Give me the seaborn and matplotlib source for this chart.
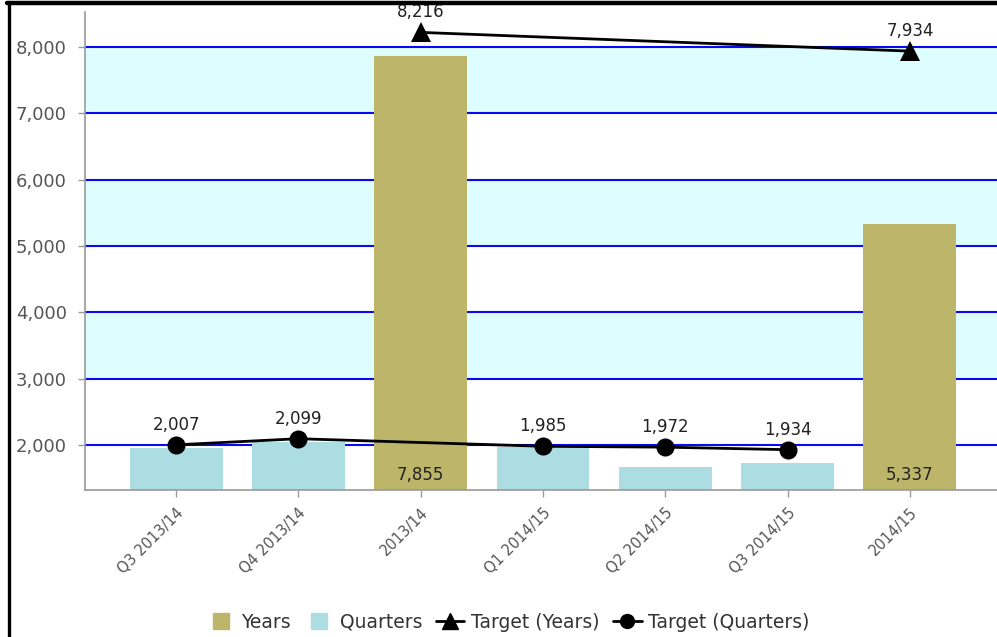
import matplotlib
matplotlib.use("Agg")
import matplotlib.pyplot as plt
import seaborn as sns
import pandas as pd
import numpy as np
from matplotlib.lines import Line2D

# ---------------- data ----------------
categories = ["Q3 2013/14", "Q4 2013/14", "2013/14", "Q1 2014/15",
              "Q2 2014/15", "Q3 2014/15", "2014/15"]
series_type = ["Quarters", "Quarters", "Years", "Quarters",
               "Quarters", "Quarters", "Years"]
bar_values = [1955, 2045, 7855, 1978, 1678, 1738, 5337]

target_years_cats = ["2013/14", "2014/15"]
target_years = [8216, 7934]
target_quarters_cats = ["Q3 2013/14", "Q4 2013/14", "Q1 2014/15",
                        "Q2 2014/15", "Q3 2014/15"]
target_quarters = [2007, 2099, 1985, 1972, 1934]

y_ticks = [2000, 3000, 4000, 5000, 6000, 7000, 8000]
y_tick_labels = ["2,000", "3,000", "4,000", "5,000", "6,000", "7,000", "8,000"]
band_ranges = [(3000, 4000), (5000, 6000), (7000, 8000)]

# ---------------- styling ----------------
c_years = "#BDB56A"
c_quarters = "#ABDDE2"
c_band = "#DDFDFF"
c_grid = "#0A0AF0"

sns.set_theme(style="white")
plt.rcParams["font.family"] = ["DejaVu Sans"]

W, H = 997, 637
fig = plt.figure(figsize=(W / 100, H / 100), dpi=100)
ax = fig.add_axes([85 / W, 1 - 490 / H, (1001 - 85) / W, (490 - 12) / H])

df = pd.DataFrame({"cat": categories, "type": series_type, "value": bar_values})

# bands and gridlines
for lo, hi in band_ranges:
    ax.axhspan(lo, hi, color=c_band, zorder=0, lw=0)
for t in y_ticks:
    ax.axhline(t, color=c_grid, lw=1.5, zorder=0.5)

sns.barplot(data=df, x="cat", y="value", hue="type", dodge=False,
            palette={"Years": c_years, "Quarters": c_quarters},
            hue_order=["Years", "Quarters"], order=categories,
            width=0.76, saturation=1, ax=ax, legend=False, zorder=2,
            linewidth=0, edgecolor="none")

pos = {c: i for i, c in enumerate(categories)}

# year value labels at bottom of bars
for c, t, v in zip(categories, series_type, bar_values):
    if t == "Years":
        ax.annotate(f"{v:,}", xy=(pos[c], 1327), xytext=(0, 4),
                    textcoords="offset points", ha="center", va="bottom",
                    fontsize=12, color="#222222", zorder=5)

ty = pd.DataFrame({"x": [pos[c] for c in target_years_cats], "y": target_years})
tq = pd.DataFrame({"x": [pos[c] for c in target_quarters_cats], "y": target_quarters})

sns.lineplot(data=ty, x="x", y="y", color="black", lw=2, marker="^",
             markersize=14, markeredgewidth=0, ax=ax, zorder=4)
sns.lineplot(data=tq, x="x", y="y", color="black", lw=2, marker="o",
             markersize=13, markeredgewidth=0, ax=ax, zorder=4)

for x, y in zip(ty["x"], ty["y"]):
    ax.annotate(f"{y:,}", xy=(x, y), xytext=(0, 8), textcoords="offset points",
                ha="center", va="bottom", fontsize=12, color="#222222",
                zorder=6, annotation_clip=False)
for x, y in zip(tq["x"], tq["y"]):
    ax.annotate(f"{y:,}", xy=(x, y), xytext=(0, 8), textcoords="offset points",
                ha="center", va="bottom", fontsize=12, color="#222222",
                zorder=6)

ax.set_xlim(-0.745, len(categories) - 1 + 0.745)
ax.set_ylim(1327, 8523)
ax.set_yticks(y_ticks)
ax.set_yticklabels(y_tick_labels)
ax.set_xticks(range(len(categories)))
ax.set_xticklabels(categories, rotation=45, ha="right", rotation_mode="anchor")
ax.set_xlabel("")
ax.set_ylabel("")

ax.tick_params(axis="y", length=5, width=1, color="#999999", labelsize=13,
               labelcolor="#555555", pad=8, left=True)
ax.tick_params(axis="x", length=5, width=1, color="#999999", labelsize=10.5,
               labelcolor="#555555", pad=6, bottom=True)

for s in ["top", "right"]:
    ax.spines[s].set_visible(False)
for s in ["left", "bottom"]:
    ax.spines[s].set_color("#999999")
    ax.spines[s].set_linewidth(1.2)

handles = [
    Line2D([], [], color=c_years, marker="s", markersize=11, linestyle="none", label="Years"),
    Line2D([], [], color=c_quarters, marker="s", markersize=11, linestyle="none", label="Quarters"),
    Line2D([], [], color="black", lw=2, marker="^", markersize=11, label="Target (Years)"),
    Line2D([], [], color="black", lw=2, marker="o", markersize=10, label="Target (Quarters)"),
]
leg = fig.legend(handles=handles, loc="center", bbox_to_anchor=(508 / W, 1 - 622 / H),
                 ncol=4, frameon=False, fontsize=13.5, handlelength=1.5,
                 handletextpad=0.35, columnspacing=0.75)
for t in leg.get_texts():
    t.set_color("#333333")

# black frame (left and top)
fig.add_artist(Line2D([8.5 / W, 8.5 / W], [0, 1 - 2 / H], color="black", lw=2.4,
                      transform=fig.transFigure))
fig.add_artist(Line2D([7 / W, 1], [1 - 3 / H, 1 - 3 / H], color="black", lw=3.2,
                      transform=fig.transFigure, zorder=10))

fig.savefig("out.png", dpi=100)
